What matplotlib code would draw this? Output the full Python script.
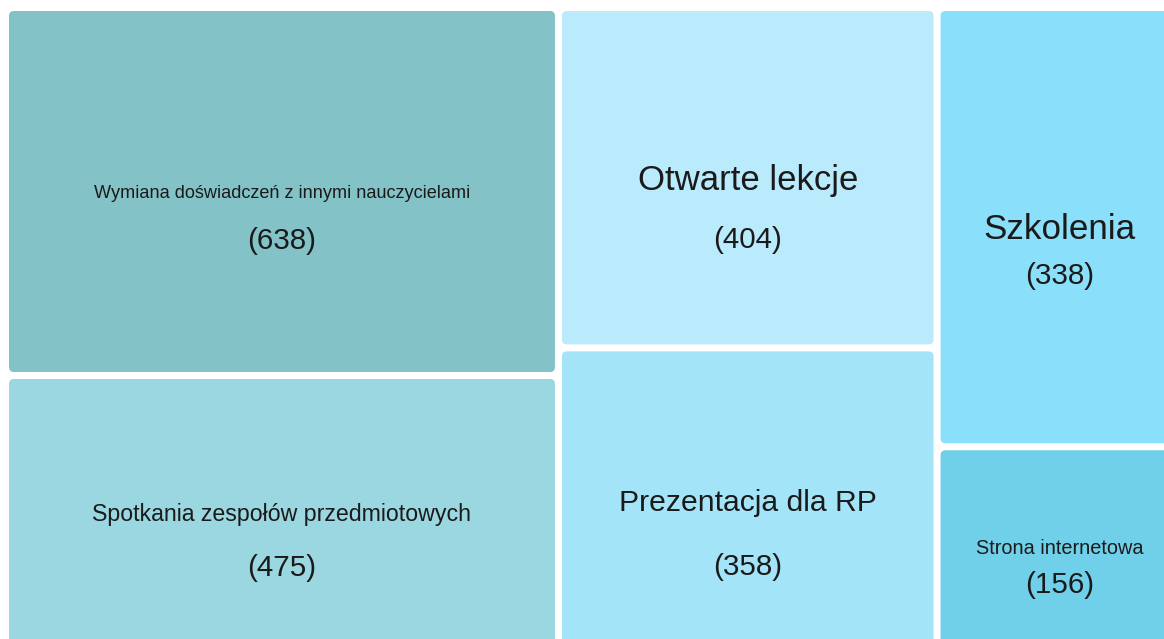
import matplotlib
matplotlib.use('Agg')
from matplotlib import pyplot as plt
from matplotlib.patches import FancyBboxPatch

plt.rcParams['font.family'] = ['Liberation Sans', 'DejaVu Sans']

# data, grouped in columns as in the treemap
columns = [
    ['Wymiana doświadczeń z innymi nauczycielami', 'Spotkania zespołów przedmiotowych'],
    ['Otwarte lekcje', 'Prezentacja dla RP'],
    ['Szkolenia', 'Strona internetowa'],
]
counts = [
    [638, 475],
    [404, 358],
    [338, 156],
]
colors = [
    ['#83c3c8', '#9bd7e1'],
    ['#b9ebfc', '#a4e4f8'],
    ['#8ae0fa', '#70d0ea'],
]
# label font size, label / count offsets from tile centre (px)
label_sizes = [[13.1, 16.7], [25, 21.7], [25.2, 14.3]]
label_offsets = [[2, 2], [3, 4], [2, 0]]
count_offsets = [[49, 55], [62, 68], [49, 37]]

W, H = 1164, 639
fig = plt.figure(figsize=(W / 100, H / 100), dpi=100)
ax = fig.add_axes([0, 0, 1, 1])
ax.set_xlim(0, W)
ax.set_ylim(H, 0)
ax.axis('off')

x0, y0 = 5.5, 7.5
tot_w, tot_h = 1177, 642
gap = 3.5
total = sum(sum(c) for c in counts)

x = x0
for ci, col in enumerate(columns):
    col_sum = sum(counts[ci])
    cw = tot_w * col_sum / total
    y = y0
    for ri, name in enumerate(col):
        v = counts[ci][ri]
        rh = tot_h * v / col_sum
        bx, by = x + gap, y + gap
        bw, bh = cw - 2 * gap, rh - 2 * gap
        ax.add_patch(FancyBboxPatch((bx, by), bw, bh,
                                    boxstyle='round,pad=0,rounding_size=5',
                                    fc=colors[ci][ri], ec='none'))
        cx, cy = bx + bw / 2, by + bh / 2
        ax.text(cx, cy + label_offsets[ci][ri], name, ha='center', va='center',
                fontsize=label_sizes[ci][ri], color='#1a1a1a')
        ax.text(cx, cy + count_offsets[ci][ri], f'({v})', ha='center', va='center',
                fontsize=21.3, color='#1a1a1a')
        y += rh
    x += cw

fig.savefig('out.png', dpi=100)
